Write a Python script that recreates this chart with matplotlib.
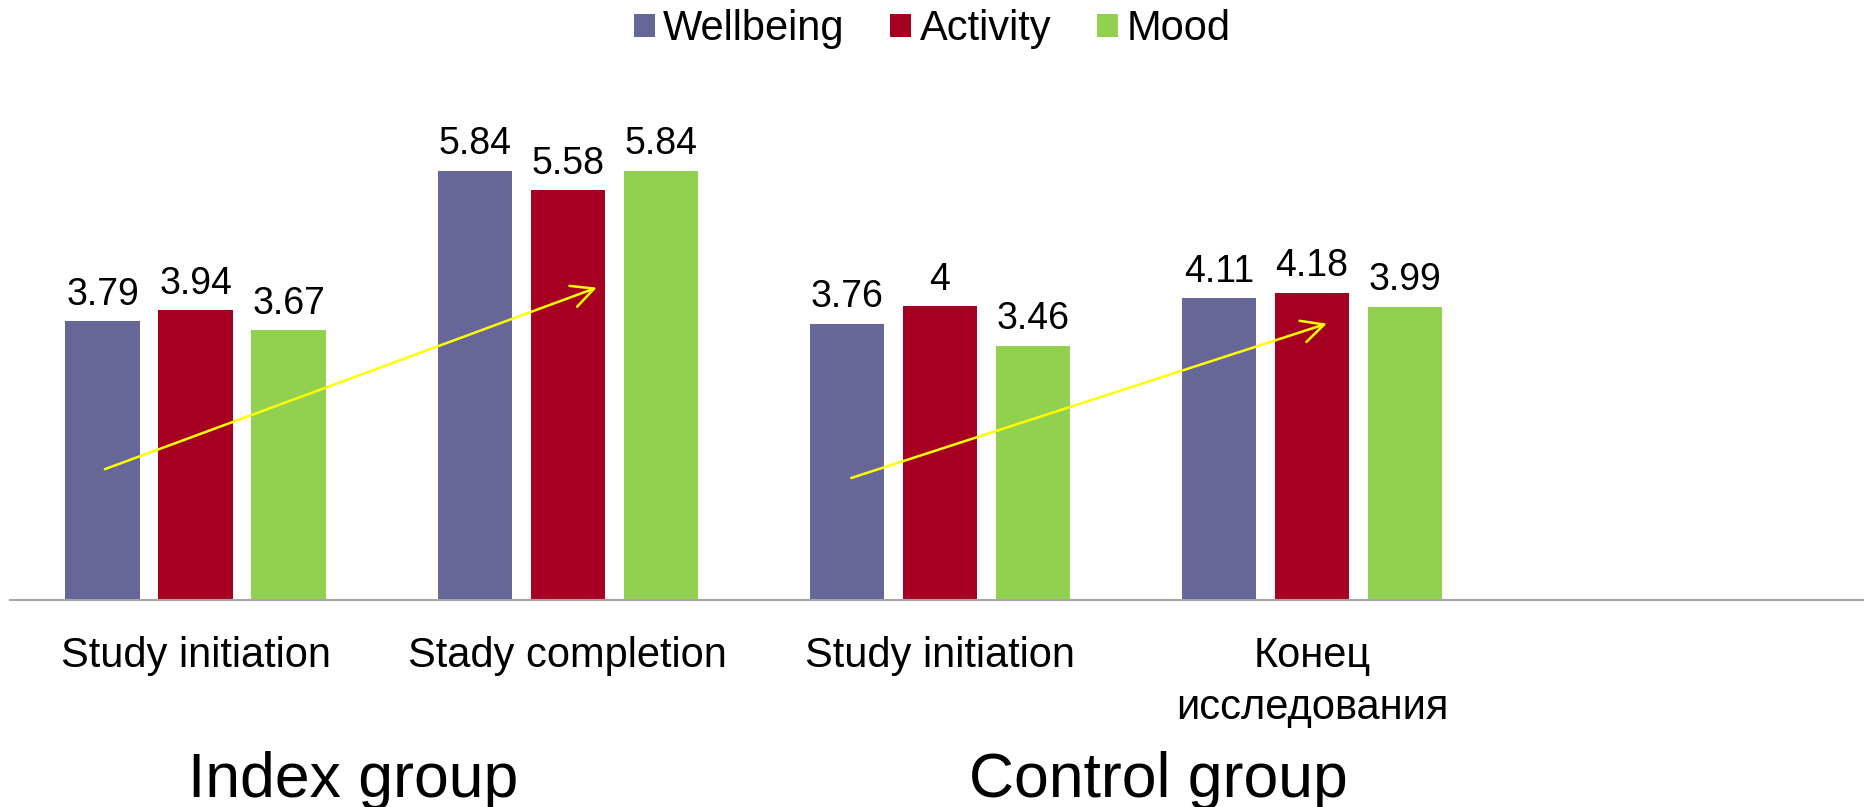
import matplotlib
matplotlib.use("Agg")
import matplotlib.pyplot as plt
import numpy as np
from matplotlib.patches import Patch

plt.rcParams["font.family"] = ["Liberation Sans", "DejaVu Sans"]

categories = ["Study initiation", "Stady completion", "Study initiation", "Конец\nисследования"]
series_names = ["Wellbeing", "Activity", "Mood"]
wellbeing = [3.79, 5.84, 3.76, 4.11]
activity = [3.94, 5.58, 4.00, 4.18]
mood = [3.67, 5.84, 3.46, 3.99]
colors = ["#666699", "#A50021", "#92D050"]

group_names = ["Index group", "Control group"]

# yellow trend arrows (start -> end, data coords)
arrow_start = [(-0.244, 1.78), (1.762, 1.66)]
arrow_end = [(1.078, 4.25), (3.04, 3.76)]

fig = plt.figure(figsize=(18.64, 8.07), dpi=100)
ax = fig.add_axes([9.6 / 1864, 207 / 807, 1 - 9.6 / 1864, 7 * 73.5 / 807])

x = np.arange(len(categories))
width = 0.2
offsets = [-0.25, 0.0, 0.25]
for vals, name, color, off in zip([wellbeing, activity, mood], series_names, colors, offsets):
    bars = ax.bar(x + off, vals, width, color=color, label=name)
    ax.bar_label(bars, labels=["{:g}".format(v) for v in vals], padding=6, fontsize=27)

for (x0, y0), (x1, y1) in zip(arrow_start, arrow_end):
    ax.annotate("", xy=(x1, y1), xytext=(x0, y0),
                arrowprops=dict(arrowstyle="->", color="#FFFF00", lw=1.8,
                                mutation_scale=40, shrinkA=0, shrinkB=0))

ax.set_xlim(-0.5, (1864 - 195.6) / 372.1)
ax.set_ylim(0, 7)
ax.set_xticks(x)
ax.set_xticklabels(categories, fontsize=30, linespacing=1.38)
ax.tick_params(axis="x", length=0, pad=26)
ax.set_yticks([])
ax.spines[["top", "right", "left"]].set_visible(False)
ax.spines["bottom"].set_color("#A6A6A6")
ax.spines["bottom"].set_linewidth(1.5)

handles = [Patch(facecolor=c, label=n) for c, n in zip(colors, series_names)]
fig.legend(handles=handles, loc="upper center", bbox_to_anchor=(0.5, 1.035), ncol=3,
           frameon=False, fontsize=30, handlelength=0.5, handleheight=0.5,
           handletextpad=0.2, columnspacing=1.1)

fig.text(353 / 1864, 1 - 780 / 807, group_names[0], fontsize=45, ha="center", va="center")
fig.text(1158 / 1864, 1 - 780 / 807, group_names[1], fontsize=45, ha="center", va="center")

fig.savefig("out.png", dpi=100)
